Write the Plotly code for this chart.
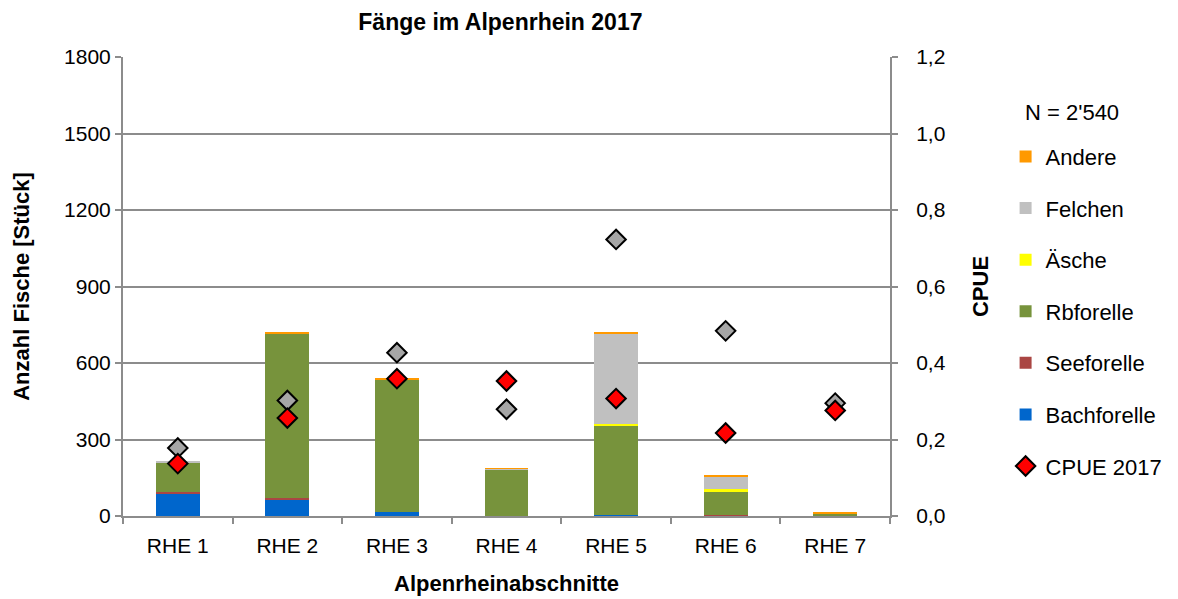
import plotly.graph_objects as go

categories = ["RHE 1", "RHE 2", "RHE 3", "RHE 4", "RHE 5", "RHE 6", "RHE 7"]
bachforelle = [89, 64, 16, 0, 5, 0, 0]
seeforelle = [7, 8, 0, 0, 0, 5, 1]
rbforelle = [113, 642, 519, 181, 348, 91, 7]
aesche = [2, 0, 0, 0, 8, 9, 0]
felchen = [2, 0, 0, 6, 353, 48, 1]
andere = [0, 5, 5, 1, 4, 5, 7]
cpue_2017 = [0.137, 0.256, 0.359, 0.353, 0.307, 0.217, 0.276]
cpue_prev = [0.178, 0.302, 0.427, 0.279, 0.723, 0.484, 0.295]
n_total = "N = 2'540"

left_ticks = [0, 300, 600, 900, 1200, 1500, 1800]
right_ticks = [0, 0.2, 0.4, 0.6, 0.8, 1.0, 1.2]
right_ticktext = ["0,0", "0,2", "0,4", "0,6", "0,8", "1,0", "1,2"]

FONT = "Liberation Sans, Arial, sans-serif"

series = [
    ("Bachforelle", bachforelle, "#0066CC", 6),
    ("Seeforelle", seeforelle, "#AA4643", 5),
    ("Rbforelle", rbforelle, "#77933C", 4),
    ("Äsche", aesche, "#FFFF00", 3),
    ("Felchen", felchen, "#C0C0C0", 2),
    ("Andere", andere, "#FF9900", 1),
]

fig = go.Figure()
for name, vals, color, rank in series:
    fig.add_trace(go.Bar(
        x=categories, y=vals, name=name, marker=dict(color=color, line=dict(width=0)),
        width=0.4, legendrank=rank, legendgroup=name,
    ))

fig.add_trace(go.Scatter(
    x=categories, y=cpue_prev, yaxis="y2", mode="markers", showlegend=False,
    marker=dict(symbol="diamond", size=15, color="#A6A6A6", line=dict(color="black", width=2)),
))
fig.add_trace(go.Scatter(
    x=categories, y=cpue_2017, yaxis="y2", mode="markers", name="CPUE 2017",
    legendrank=7, legendgroup="cpue",
    marker=dict(symbol="diamond", size=15, color="#FF0000", line=dict(color="black", width=2)),
))

fig.add_annotation(
    text=n_total, xref="paper", yref="paper", x=1.1733, y=0.878,
    xanchor="left", yanchor="middle", showarrow=False, font=dict(size=22),
)

fig.update_layout(
    width=1178, height=599,
    barmode="stack",
    plot_bgcolor="white", paper_bgcolor="white",
    font=dict(family=FONT, size=21, color="black"),
    margin=dict(l=115, r=296, t=49, b=91),
    title=dict(text="<b>Fänge im Alpenrhein 2017</b>", x=0.418, xanchor="center",
               y=1 - 14 / 599, yanchor="middle", font=dict(size=23)),
    xaxis=dict(
        showline=True, linecolor="#8C8C8C", linewidth=2,
        ticks="outside", tickson="boundaries", ticklen=6, tickcolor="#8C8C8C", tickwidth=2,
        ticklabelstandoff=10,
        title=dict(text="<b>Alpenrheinabschnitte</b>", standoff=19, font=dict(size=22)),
        showgrid=False,
    ),
    yaxis=dict(
        range=[0, 1800], tickvals=left_ticks, showgrid=True, gridcolor="#8C8C8C", gridwidth=2,
        showline=True, linecolor="#8C8C8C", linewidth=2, ticks="outside", ticklen=6,
        tickcolor="#8C8C8C", tickwidth=2, zeroline=False,
        title=dict(text="<b>Anzahl Fische [Stück]</b>", standoff=28, font=dict(size=22)),
    ),
    yaxis2=dict(
        range=[0, 1.2], tickvals=right_ticks, ticktext=right_ticktext, overlaying="y", side="right",
        showgrid=False, showline=True, linecolor="#8C8C8C", linewidth=2, ticks="outside",
        ticklen=6, tickcolor="#8C8C8C", tickwidth=2, zeroline=False, ticklabelstandoff=14,
        title=dict(text="<b>CPUE</b>", standoff=28, font=dict(size=22)),
    ),
    legend=dict(
        x=1.1507, xanchor="left", y=0.8287, yanchor="top", traceorder="grouped",
        tracegroupgap=20, font=dict(size=22),
        bgcolor="rgba(0,0,0,0)",
    ),
)

fig.write_html("out.html")
